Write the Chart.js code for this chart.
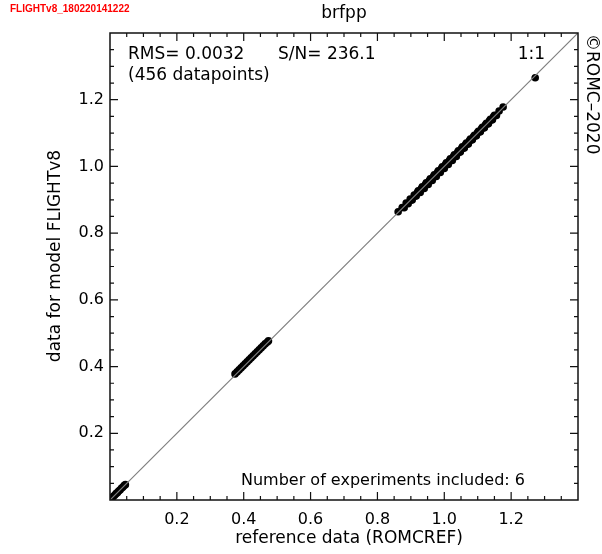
<!DOCTYPE html>
<html>
<head>
  <meta charset="UTF-8" />
  <title>brfpp</title>
  <script src="https://cdn.jsdelivr.net/npm/chart.js"></script>
  <style>
    body { margin: 0; background: #fff; }
    #wrap { width: 602px; height: 554px; }
  </style>
</head>
<body>
  <div id="wrap"><canvas id="graphique"></canvas></div>

  <script>
    // valeurs (référence ROMCREF vs modèle FLIGHTv8)
    const refX = [
      0.002, 0.006, 0.010, 0.014, 0.018, 0.022, 0.026, 0.030, 0.034, 0.038, 0.042, 0.046,
      0.374, 0.380, 0.386, 0.392, 0.398, 0.404, 0.410, 0.416, 0.422, 0.428, 0.434, 0.440,
      0.446, 0.452, 0.458, 0.464, 0.470, 0.474,
      0.862, 0.874, 0.880, 0.886, 0.892, 0.898, 0.904, 0.910, 0.916, 0.922, 0.928, 0.934,
      0.940, 0.946, 0.952, 0.958, 0.964, 0.970, 0.976, 0.982, 0.988, 0.994, 1.000, 1.006,
      1.012, 1.018, 1.024, 1.030, 1.036, 1.042, 1.048, 1.054, 1.060, 1.066, 1.072, 1.078,
      1.084, 1.090, 1.096, 1.102, 1.108, 1.114, 1.120, 1.126, 1.132, 1.138, 1.144, 1.150,
      1.156, 1.164, 1.176,
      0.919, 0.925, 0.931, 0.937, 0.943, 0.949, 0.955, 0.961, 0.967, 0.973, 0.979, 0.985,
      0.991, 0.997, 1.003, 1.009, 1.015, 1.021, 1.027, 1.033, 1.039, 1.045, 1.051, 1.057,
      1.063, 1.069, 1.075, 1.081, 1.087, 1.093, 1.099, 1.105, 1.111, 1.117, 1.123, 1.129,
      1.135, 1.141, 1.147,
      1.272
    ];
    const modelY = [
      0.003, 0.006, 0.011, 0.014, 0.019, 0.022, 0.027, 0.030, 0.035, 0.038, 0.043, 0.046,
      0.378, 0.384, 0.390, 0.396, 0.402, 0.408, 0.414, 0.420, 0.426, 0.432, 0.438, 0.444,
      0.450, 0.456, 0.462, 0.468, 0.473, 0.477,
      0.864, 0.877, 0.876, 0.890, 0.888, 0.902, 0.899, 0.914, 0.911, 0.927, 0.922, 0.939,
      0.934, 0.951, 0.946, 0.963, 0.958, 0.975, 0.970, 0.987, 0.982, 0.999, 0.994, 1.011,
      1.006, 1.023, 1.018, 1.035, 1.030, 1.047, 1.043, 1.059, 1.055, 1.070, 1.067, 1.082,
      1.080, 1.093, 1.092, 1.105, 1.104, 1.117, 1.116, 1.129, 1.128, 1.141, 1.140, 1.153,
      1.153, 1.166, 1.178,
      0.921, 0.923, 0.933, 0.935, 0.945, 0.947, 0.957, 0.959, 0.969, 0.971, 0.981, 0.983,
      0.993, 0.995, 1.005, 1.007, 1.017, 1.019, 1.029, 1.031, 1.041, 1.043, 1.053, 1.055,
      1.065, 1.067, 1.077, 1.079, 1.089, 1.091, 1.101, 1.103, 1.113, 1.115, 1.125, 1.127,
      1.137, 1.139, 1.149,
      1.266
    ];
    const tickLabels = ['0.2', '0.4', '0.6', '0.8', '1.0', '1.2'];
    const axisMin = 0;
    const axisMax = 1.4;

    const points = refX.map((x, i) => ({ x: x, y: modelY[i] }));

    const police = '"DejaVu Sans", sans-serif';

    // cadre, graduations internes et textes façon IDL
    const cadrePlugin = {
      id: 'cadre',
      afterDraw(chart) {
        const ctx = chart.ctx;
        const a = chart.chartArea;
        const sx = chart.scales.x;
        const sy = chart.scales.y;
        ctx.save();
        ctx.strokeStyle = '#111';
        ctx.lineWidth = 1.5;
        ctx.strokeRect(a.left, a.top, a.right - a.left, a.bottom - a.top);

        ctx.lineWidth = 1.2;
        for (let k = 1; k < 28; k++) {
          const v = k * 0.05;
          const len = (k % 4 === 0) ? 8 : 4;
          const px = sx.getPixelForValue(v);
          const py = sy.getPixelForValue(v);
          ctx.beginPath();
          ctx.moveTo(px, a.bottom); ctx.lineTo(px, a.bottom - len);
          ctx.moveTo(px, a.top); ctx.lineTo(px, a.top + len);
          ctx.moveTo(a.left, py); ctx.lineTo(a.left + len, py);
          ctx.moveTo(a.right, py); ctx.lineTo(a.right - len, py);
          ctx.stroke();
        }

        ctx.textBaseline = 'middle';

        ctx.font = 'bold 10px "Liberation Sans", Arial, sans-serif';
        ctx.fillStyle = '#f00';
        ctx.textAlign = 'left';
        ctx.fillText('FLIGHTv8_180220141222', 10, 9);

        ctx.fillStyle = '#000';
        ctx.font = '17px ' + police;
        ctx.textAlign = 'center';
        ctx.fillText('brfpp', 344, 14);

        ctx.textAlign = 'left';
        ctx.fillText('RMS= 0.0032', 128, 55);
        ctx.fillText('S/N= 236.1', 278, 55);
        ctx.fillText('(456 datapoints)', 128, 76);
        ctx.textAlign = 'right';
        ctx.fillText('1:1', 545, 55);

        ctx.font = '16px ' + police;
        ctx.textAlign = 'left';
        ctx.fillText('Number of experiments included: 6', 241, 481);

        ctx.font = '17px ' + police;
        ctx.textAlign = 'center';
        ctx.fillText('reference data (ROMCREF)', 349, 539);

        ctx.save();
        ctx.translate(56, 256);
        ctx.rotate(-Math.PI / 2);
        ctx.fillText('data for model FLIGHTv8', 0, 0);
        ctx.restore();

        ctx.save();
        ctx.translate(591, 34);
        ctx.rotate(Math.PI / 2);
        ctx.textAlign = 'left';
        ctx.fillText('\u00A9ROMC\u20132020', 0, 0);
        ctx.restore();

        ctx.restore();
      }
    };

    const ctx = document.getElementById('graphique').getContext('2d');

    const chart = new Chart(ctx, {
      type: 'scatter',
      data: {
        datasets: [
          {
            type: 'line',
            label: '1:1',
            data: [{ x: axisMin, y: axisMin }, { x: axisMax, y: axisMax }],
            borderColor: '#7f7f7f',
            borderWidth: 1.2,
            pointRadius: 0,
            fill: false
          },
          {
            label: 'FLIGHTv8',
            data: points,
            backgroundColor: '#000',
            borderColor: '#000',
            pointRadius: 3.8,
            pointBorderWidth: 0
          }
        ]
      },
      options: {
        responsive: true,
        maintainAspectRatio: false,
        animation: false,
        layout: { padding: { left: 0, top: 33, right: 24, bottom: 0 } },
        plugins: {
          legend: { display: false },
          tooltip: { enabled: false }
        },
        scales: {
          x: {
            type: 'linear',
            min: axisMin,
            max: axisMax,
            grid: { display: false, drawTicks: false },
            border: { display: false },
            afterBuildTicks: s => { s.ticks = tickLabels.map(t => ({ value: parseFloat(t) })); },
            ticks: {
              color: '#000',
              font: { family: police, size: 16 },
              padding: 10,
              maxRotation: 0,
              callback: (v) => v.toFixed(1)
            },
            afterFit: s => { s.height = 54; }
          },
          y: {
            type: 'linear',
            min: axisMin,
            max: axisMax,
            grid: { display: false, drawTicks: false },
            border: { display: false },
            afterBuildTicks: s => { s.ticks = tickLabels.map(t => ({ value: parseFloat(t) })); },
            ticks: {
              color: '#000',
              font: { family: police, size: 16 },
              padding: 6,
              callback: (v) => v.toFixed(1)
            },
            afterFit: s => { s.width = 110; }
          }
        }
      },
      plugins: [cadrePlugin]
    });
  </script>
</body>
</html>
